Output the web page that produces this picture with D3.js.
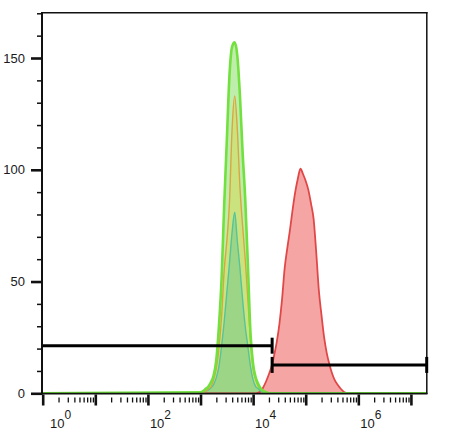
<!DOCTYPE html>
<html>
<head>
<meta charset="utf-8">
<script src="https://cdn.jsdelivr.net/npm/d3@7/dist/d3.min.js"></script>
<style>
    body { margin: 0; background: #fff; }
    svg { display: block; }
    text { font-family: "Liberation Sans", Arial, sans-serif; fill: #1a1a1a; }
</style>
</head>
<body>
<svg width="457" height="442"></svg>
<script>
// histogram bins, as log10 of the fluorescence channel
const lowBins = [3.00, 3.05, 3.10, 3.15, 3.20, 3.25, 3.30, 3.35, 3.40, 3.45,
                 3.50, 3.55, 3.60, 3.65, 3.70, 3.75, 3.80, 3.85, 3.90, 3.95,
                 4.00, 4.05, 4.10, 4.15, 4.20, 4.25, 4.30];
const highBins = [4.00, 4.05, 4.10, 4.15, 4.20, 4.25, 4.30, 4.35, 4.40, 4.45,
                  4.50, 4.55, 4.60, 4.65, 4.70, 4.75, 4.80, 4.85, 4.90, 4.95,
                  5.00, 5.05, 5.10, 5.15, 5.20, 5.25, 5.30, 5.35, 5.40, 5.45,
                  5.50, 5.55, 5.60, 5.65, 5.70, 5.75, 5.80];

// counts per bin
const greenCounts  = [0.5, 1, 2, 3, 5, 8, 15, 30, 51, 84,
                      113, 142, 155, 157, 151, 133, 108, 87, 58, 27,
                      13, 7, 4, 2, 1, 0.5, 0];
const yellowCounts = [0.3, 0.5, 1, 2, 3, 6, 11, 20, 34, 55,
                      68, 85, 118, 133, 118, 92, 75, 60, 42, 24,
                      11, 6, 3, 2, 1, 0.3, 0];
const tealCounts   = [0.3, 0.5, 1, 1.5, 2.5, 4, 7, 12, 21, 32,
                      45, 58, 72, 81, 68, 56, 42, 30, 21, 12,
                      6, 3, 2, 1, 0.5, 0.2, 0];
const redCounts    = [0, 0, 0.3, 1, 3, 5.5, 8.5, 12, 17, 23,
                      31, 42, 56, 65, 73, 82, 90, 96, 100.5, 98,
                      95, 91, 85, 78, 63, 46, 35, 25, 18, 13,
                      9, 6, 4, 2.5, 1.2, 0.3, 0];

// axis ticks
const yMajor = [0, 50, 100, 150];
const yMinor = [10, 20, 30, 40, 60, 70, 80, 90, 110, 120, 130, 140, 160, 170];
const xDecades = [0, 1, 2, 3, 4, 5, 6, 7];
const xLabelled = [0, 2, 4, 6];

// gates: split point and height (in counts)
const gateSplit = 23000;
const gateLevels = [21.3, 12.7];

const xMax = Math.pow(10, 7.3);
const yMax = 170;

const svg = d3.select("svg");

const x = d3.scaleLog().domain([1, xMax]).range([42.7, 426.7]);
const y = d3.scaleLinear().domain([0, yMax]).range([393.3, 13.3]);

svg.append("clipPath").attr("id", "plot")
    .append("rect")
        .attr("x", x(1)).attr("y", y(yMax))
        .attr("width", x(xMax) - x(1))
        .attr("height", y(0) - y(yMax));

const series = [
    { bins: highBins, counts: redCounts,    fill: "rgba(243,130,130,0.72)", stroke: "#e04848", sw: 1.8 },
    { bins: lowBins,  counts: greenCounts,  fill: "rgba(110,215,70,0.45)",  stroke: "#72e03e", sw: 2.6 },
    { bins: lowBins,  counts: yellowCounts, fill: "rgba(220,215,70,0.45)",  stroke: "#d9a640", sw: 1.4 },
    { bins: lowBins,  counts: tealCounts,   fill: "rgba(70,185,150,0.35)",  stroke: "#55c49a", sw: 1.4 }
];

function points(s) {
    const p = s.bins.map(function(b, i) { return [Math.pow(10, b), s.counts[i]]; });
    return [[1, 0]].concat(p, [[xMax, 0]]);
}

const area = d3.area()
    .x(function(d) { return x(d[0]); })
    .y0(y(0))
    .y1(function(d) { return y(d[1]); })
    .curve(d3.curveMonotoneX);

const line = d3.line()
    .x(function(d) { return x(d[0]); })
    .y(function(d) { return y(d[1]); })
    .curve(d3.curveMonotoneX);

const g = svg.append("g").attr("clip-path", "url(#plot)");

g.selectAll("path.fill")
    .data(series)
    .enter()
    .append("path")
        .attr("class", "fill")
        .attr("d", function(s) { return area(points(s)); })
        .style("fill", function(s) { return s.fill; });

// outlines, green last so it sits on top
g.selectAll("path.edge")
    .data([series[0], series[3], series[2], series[1]])
    .enter()
    .append("path")
        .attr("class", "edge")
        .attr("d", function(s) { return line(points(s)); })
        .style("fill", "none")
        .style("stroke", function(s) { return s.stroke; })
        .style("stroke-width", function(s) { return s.sw; })
        .style("stroke-linejoin", "round");

// frame
svg.append("line").attr("x1", 42).attr("x2", 42).attr("y1", 12.5).attr("y2", 394.5)
    .style("stroke", "#111").style("stroke-width", 2);
svg.append("line").attr("x1", 41).attr("x2", 427.5).attr("y1", 393.6).attr("y2", 393.6)
    .style("stroke", "#111").style("stroke-width", 1.8);
svg.append("line").attr("x1", 41).attr("x2", 427.5).attr("y1", 12.8).attr("y2", 12.8)
    .style("stroke", "#111").style("stroke-width", 1.5);
svg.append("line").attr("x1", 426.8).attr("x2", 426.8).attr("y1", 12).attr("y2", 394)
    .style("stroke", "#111").style("stroke-width", 1.5);

// gates
const gates = [
    { from: 1, to: gateSplit, level: gateLevels[0] },
    { from: gateSplit, to: xMax, level: gateLevels[1] }
];
const gg = svg.append("g");
gates.forEach(function(gt) {
    const gy = y(gt.level);
    gg.append("line")
        .attr("x1", x(gt.from)).attr("x2", x(gt.to))
        .attr("y1", gy).attr("y2", gy)
        .style("stroke", "#000").style("stroke-width", 3);
    [gt.from, gt.to].forEach(function(v) {
        if (v <= 1) return;   // left end sits on the axis
        gg.append("line")
            .attr("x1", x(v)).attr("x2", x(v))
            .attr("y1", gy - 8).attr("y2", gy + 8)
            .style("stroke", "#000").style("stroke-width", 3);
    });
});

// y axis
const yMaj = svg.append("g").attr("transform", "translate(42,0)")
    .call(d3.axisLeft(y).tickValues(yMajor).tickSize(11).tickPadding(6));
yMaj.select(".domain").remove();
yMaj.selectAll("line").style("stroke", "#111").style("stroke-width", 2.6);
yMaj.selectAll("text").style("font-size", "13px").style("fill", "#1a1a1a");

const yMin = svg.append("g").attr("transform", "translate(42,0)")
    .call(d3.axisLeft(y).tickValues(yMinor).tickSize(5).tickFormat(""));
yMin.select(".domain").remove();
yMin.selectAll("line").style("stroke", "#111").style("stroke-width", 1.5);

// x axis
const xMajorVals = xDecades.map(function(d) { return Math.pow(10, d); });
const xMinorVals = [];
xDecades.forEach(function(d) {
    for (let m = 2; m <= 9; m++) {
        const v = m * Math.pow(10, d);
        if (v < xMax) xMinorVals.push(v);
    }
});

const xMaj = svg.append("g").attr("transform", "translate(0,394.5)")
    .call(d3.axisBottom(x).tickValues(xMajorVals).tickSize(11).tickFormat(""));
xMaj.select(".domain").remove();
xMaj.selectAll("line").style("stroke", "#111").style("stroke-width", 2.6);

const xMin = svg.append("g").attr("transform", "translate(0,397.5)")
    .call(d3.axisBottom(x).tickValues(xMinorVals).tickSize(5).tickFormat(""));
xMin.select(".domain").remove();
xMin.selectAll("line").style("stroke", "#111").style("stroke-width", 1.3);

const labels = svg.append("g").selectAll("text")
    .data(xLabelled)
    .enter()
    .append("text")
        .attr("x", function(d) { return Math.max(x(Math.pow(10, d)) + 2, 50); })
        .attr("y", 428)
        .style("font-size", "13px");
labels.append("tspan").text("10");
labels.append("tspan")
    .attr("dy", -9)
    .style("font-size", "12px")
    .text(function(d) { return d; });
</script>
</body>
</html>
